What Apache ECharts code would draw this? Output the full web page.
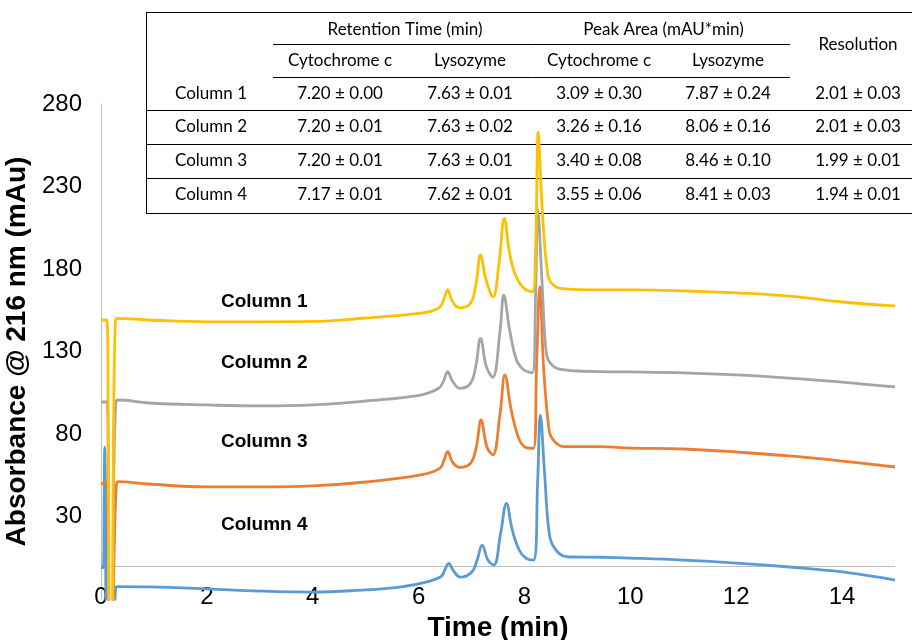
<!DOCTYPE html>
<html>
<head>
<meta charset="utf-8">
<script src="https://cdn.jsdelivr.net/npm/echarts@6/dist/echarts.min.js"></script>
<style>html,body{margin:0;padding:0;background:#fff}#chart{width:913px;height:640px}</style>
</head>
<body>
<div id="chart"></div>
<script>
// ---------- data ----------
const seriesNames = ['Column 1', 'Column 2', 'Column 3', 'Column 4'];
const xTickLabels = [0, 2, 4, 6, 8, 10, 12, 14];
const yTickLabels = [30, 80, 130, 180, 230, 280];

// [time (min), absorbance (mAu)]
const column1 = [[0,149.1],[0.11,149.1],[0.14,60],[0.16,-40],[0.21,-40],[0.23,60],[0.27,148],[0.31,150.1],[0.9,149.1],[2,148],[3,148],[4,148.2],[5,150.3],[6.04,153.2],[6.38,156.2],[6.47,161],[6.55,167.3],[6.63,161],[6.72,157],[6.79,156.5],[6.98,159.2],[7.08,170],[7.17,188.5],[7.26,175.3],[7.37,164.2],[7.41,163.2],[7.52,183.5],[7.62,210.7],[7.72,189.5],[7.83,176.4],[7.99,168.3],[8.15,166.2],[8.21,193.5],[8.26,263],[8.31,232],[8.36,203.6],[8.43,179.4],[8.49,172.3],[8.68,168.3],[9.43,167.3],[10,167.3],[11,166.7],[12,165.5],[13,163.6],[14,160],[15,157.6]];
const column2 = [[0,99.4],[0.11,99.4],[0.14,50],[0.16,-40],[0.21,-40],[0.24,50],[0.28,99],[0.33,100.6],[0.9,98.8],[2,97.6],[3,97],[4,97.6],[5,100],[6.04,103.6],[6.38,107.7],[6.47,112],[6.55,117.8],[6.64,112],[6.78,107.7],[6.98,110.7],[7.08,121],[7.17,138],[7.28,120.8],[7.40,114.4],[7.54,143],[7.61,164.2],[7.72,143],[7.85,124.8],[7.99,118.8],[8.15,117.2],[8.21,163.2],[8.25,216.2],[8.33,173.3],[8.40,132.9],[8.47,123.8],[8.68,119.2],[9.43,117.8],[10,117.6],[11,117],[12,115.8],[13,113.9],[14,111.5],[15,108.5]];
const column3 = [[0,50.1],[0.11,50.1],[0.14,10],[0.16,-40],[0.21,-40],[0.25,10],[0.29,49],[0.33,51.1],[0.9,49.7],[2,47.9],[3,47.9],[4,48.5],[5,50.9],[6.04,55.2],[6.40,59.2],[6.48,64],[6.55,69.3],[6.64,63],[6.78,59.8],[6.98,62.2],[7.09,72],[7.18,88.5],[7.29,72.3],[7.40,67.3],[7.54,92.5],[7.63,115.8],[7.75,94.5],[7.88,78.4],[8.00,72.3],[8.17,71.3],[8.23,122.8],[8.29,169.3],[8.36,120.8],[8.45,86.5],[8.52,77.4],[8.75,72.3],[9.43,72.3],[10,71.5],[11,70.9],[12,69.1],[13,66.7],[14,63.6],[15,60]];
const column4 = [[0,-1],[0.04,-1],[0.06,40],[0.07,72],[0.085,40],[0.1,-40],[0.2,-40],[0.25,-30],[0.28,-13],[0.32,-12.5],[0.9,-12.7],[2,-13.9],[3,-15.2],[4,-15.8],[5,-14.5],[5.5,-13.3],[6.04,-10.5],[6.42,-6.5],[6.50,-2],[6.57,1.6],[6.66,-3],[6.79,-6.8],[7.01,-3.5],[7.11,4],[7.20,12.7],[7.31,3.6],[7.42,0.6],[7.55,19.8],[7.66,38],[7.77,21.8],[7.90,9.7],[8.03,4.7],[8.17,3.6],[8.25,52.1],[8.30,91.5],[8.38,56.2],[8.46,21.8],[8.55,11.7],[8.80,5.6],[9.43,5.3],[10,4.8],[11,3.6],[12,1.8],[13,-0.6],[14,-3.6],[15,-8.5]];

// table
const tableGroups = ['Retention Time (min)', 'Peak Area (mAU*min)', 'Resolution'];
const tableSubHeaders = ['Cytochrome c', 'Lysozyme', 'Cytochrome c', 'Lysozyme'];
const tableRowLabels = ['Column 1', 'Column 2', 'Column 3', 'Column 4'];
const retCytochrome = ['7.20 ± 0.00', '7.20 ± 0.01', '7.20 ± 0.01', '7.17 ± 0.01'];
const retLysozyme = ['7.63 ± 0.01', '7.63 ± 0.02', '7.63 ± 0.01', '7.62 ± 0.01'];
const areaCytochrome = ['3.09 ± 0.30', '3.26 ± 0.16', '3.40 ± 0.08', '3.55 ± 0.06'];
const areaLysozyme = ['7.87 ± 0.24', '8.06 ± 0.16', '8.46 ± 0.10', '8.41 ± 0.03'];
const resolution = ['2.01 ± 0.03', '2.01 ± 0.03', '1.99 ± 0.01', '1.94 ± 0.01'];

// ---------- layout / style ----------
const colors = ['#FFC000', '#A5A5A5', '#ED7D31', '#5B9BD5'];
const tableFont = '17px Lato';
const colX = [211, 340, 470, 599, 728, 858];
const rowY = [94, 127, 161, 195];
const tblLeft = 146, tblRight = 912, tblTop = 12, tblBottom = 213;

const chart = echarts.init(document.getElementById('chart'), null, {renderer: 'canvas'});
const graphics = [];
function txt(x, y, s) {
  graphics.push({type: 'text', x: x, y: y, z: 0,
    style: {text: s, font: tableFont, fill: '#000', align: 'center', verticalAlign: 'middle'}});
}
function hline(x1, x2, y) {
  graphics.push({type: 'line', z: 0, shape: {x1: x1, y1: y, x2: x2, y2: y},
    style: {stroke: '#000', lineWidth: 1}});
}
hline(tblLeft, tblRight, tblTop + 0.5);
hline(tblLeft, tblRight, tblBottom + 0.5);
graphics.push({type: 'line', z: 0, shape: {x1: tblLeft + 0.5, y1: tblTop, x2: tblLeft + 0.5, y2: tblBottom},
  style: {stroke: '#000', lineWidth: 1}});
hline(273, 790, 44.5);
hline(273, 790, 77.5);
hline(tblLeft, tblRight, 110.5);
hline(tblLeft, tblRight, 144.5);
hline(tblLeft, tblRight, 178.5);
txt((colX[1] + colX[2]) / 2, 30, tableGroups[0]);
txt((colX[3] + colX[4]) / 2, 30, tableGroups[1]);
txt(colX[5], 45, tableGroups[2]);
tableSubHeaders.forEach((s, i) => txt(colX[i + 1], 61, s));
const cols = [tableRowLabels, retCytochrome, retLysozyme, areaCytochrome, areaLysozyme, resolution];
cols.forEach((arr, c) => arr.forEach((s, r) => txt(colX[c], rowY[r], s)));

const labelY = [301.5, 363, 441.5, 524.5];
seriesNames.forEach((n, i) => graphics.push({type: 'text', x: 221, y: labelY[i], z: 5,
  style: {text: n, font: 'bold 19px "Liberation Sans"', fill: '#000', align: 'left', verticalAlign: 'middle'}}));

const data = [column1, column2, column3, column4];
const series = [];
for (let i = 3; i >= 0; i--) {
  const s = {
    name: seriesNames[i], type: 'line', data: data[i], showSymbol: false, symbol: 'none',
    smooth: 0.4, clip: true,
    lineStyle: {color: colors[i], width: 2.8}, itemStyle: {color: colors[i]},
    z: 2 + (3 - i)
  };
  if (i === 3) {
    s.markLine = {silent: true, symbol: 'none', label: {show: false},
      lineStyle: {color: '#BFBFBF', width: 1, type: 'solid'}, data: [{yAxis: 0}], z: 1};
  }
  series.push(s);
}

chart.setOption({
  animation: false,
  backgroundColor: '#fff',
  grid: {left: 101, right: 18, top: 104, bottom: 41, containLabel: false, outerBoundsMode: 'none'},
  xAxis: {
    type: 'value', min: 0, max: 15, interval: 2,
    axisLine: {show: false, onZero: false}, axisTick: {show: false}, splitLine: {show: false},
    axisLabel: {fontSize: 24, color: '#000', fontFamily: 'Liberation Sans', margin: -14,
      formatter: v => xTickLabels.includes(v) ? String(v) : ''},
    name: 'Time (min)', nameLocation: 'middle', nameGap: 9,
    nameTextStyle: {fontSize: 28, fontWeight: 'bold', color: '#000', fontFamily: 'Liberation Sans'}
  },
  yAxis: {
    type: 'value', min: -20, max: 280, interval: 50,
    axisLine: {show: true, onZero: false, lineStyle: {color: '#BFBFBF', width: 1}},
    axisTick: {show: false}, splitLine: {show: false},
    axisLabel: {fontSize: 24, color: '#000', fontFamily: 'Liberation Sans', margin: 19,
      formatter: v => yTickLabels.includes(v) ? String(v) : ''},
    name: 'Absorbance @ 216 nm (mAu)', nameLocation: 'middle', nameGap: 59, nameRotate: 90,
    nameTextStyle: {fontSize: 28, fontWeight: 'bold', color: '#000', fontFamily: 'Liberation Sans'}
  },
  graphic: graphics,
  series: series
});
</script>
</body>
</html>
